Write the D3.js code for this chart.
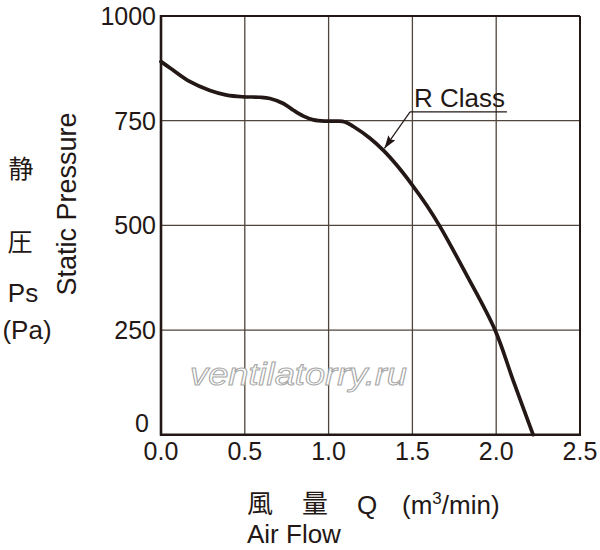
<!DOCTYPE html>
<html><head><meta charset="utf-8">
<script src="https://cdn.jsdelivr.net/npm/d3@7"></script>
<style>
body{margin:0;background:#fff;}
svg{display:block;font-family:"Liberation Sans",Arial,Helvetica,sans-serif;}
</style></head>
<body>
<svg id="c" width="600" height="550"></svg>
<script>
const flow     = [0.00, 0.054, 0.173, 0.292, 0.392, 0.491, 0.59, 0.65, 0.73, 0.79, 0.85, 0.91, 0.98, 1.05, 1.098, 1.148, 1.247, 1.327, 1.406, 1.496, 1.585, 1.665, 1.824, 1.993, 2.10, 2.22];
const pressure = [891,  876,   843,   822,   811,   807,   806,  803,  791,  775,  761,  752,  749,  749,  747,   736,   708,   679,   644,   598,   548,   497,   381,   250,   131,  0];
const xTicks = [0, 0.5, 1.0, 1.5, 2.0, 2.5];
const yTicks = [0, 250, 500, 750, 1000];
const seriesName = "R Class";
const labelAt = [1.486, 771];   // underline start (data coords)
const labelEnd = 2.064;
const arrowTip = [1.327, 679];

const ink = "#231815", grid = "#4f453c";
const svg = d3.select("#c");
const x = d3.scaleLinear().domain([0, 2.5]).range([161, 580]);
const y = d3.scaleLinear().domain([0, 1000]).range([434.7, 16]);

// grid
svg.append("g").selectAll("line").data(xTicks.slice(1, -1)).join("line")
  .attr("x1", d => x(d)).attr("x2", d => x(d)).attr("y1", y(1000)).attr("y2", y(0))
  .attr("stroke", grid).attr("stroke-width", 1.3);
svg.append("g").selectAll("line").data(yTicks.slice(1, -1)).join("line")
  .attr("x1", x(0)).attr("x2", x(2.5)).attr("y1", d => y(d)).attr("y2", d => y(d))
  .attr("stroke", grid).attr("stroke-width", 1.3);

// watermark
svg.append("text").attr("x", 190).attr("y", 385).text("ventilatorry.ru")
  .attr("font-size", 31).attr("font-style", "italic").attr("textLength", 217)
  .attr("lengthAdjust", "spacingAndGlyphs")
  .attr("fill", "#fff").attr("stroke", "#a8a8a8").attr("stroke-width", 1);

// frame
svg.append("line").attr("x1", x(0)).attr("x2", x(2.5)).attr("y1", y(1000)).attr("y2", y(1000)).attr("stroke", ink).attr("stroke-width", 2);
svg.append("line").attr("x1", x(2.5)).attr("x2", x(2.5)).attr("y1", y(1000)).attr("y2", y(0)).attr("stroke", ink).attr("stroke-width", 2);
svg.append("line").attr("x1", x(0)).attr("x2", x(0)).attr("y1", y(1000) - 1).attr("y2", y(0) + 1).attr("stroke", ink).attr("stroke-width", 2.6);
svg.append("line").attr("x1", x(0) - 1).attr("x2", x(2.5) + 1).attr("y1", y(0)).attr("y2", y(0)).attr("stroke", ink).attr("stroke-width", 2.6);

// ticks
svg.append("g").selectAll("text").data(yTicks).join("text")
  .attr("x", d => d === 0 ? 149 : 156).attr("y", d => d === 0 ? y(d) - 3 : y(d)).attr("dy", d => d === 0 ? "0" : "0.36em")
  .attr("text-anchor", "end").attr("font-size", 25).attr("fill", ink)
  .text(d => d);
svg.append("g").selectAll("text").data(xTicks).join("text")
  .attr("x", d => x(d)).attr("y", 460)
  .attr("text-anchor", "middle").attr("font-size", 25).attr("fill", ink)
  .text(d => d.toFixed(1));

// curve
const pts = flow.map((f, i) => [f, pressure[i]]);
svg.append("path").datum(pts)
  .attr("d", d3.line().x(d => x(d[0])).y(d => y(d[1])).curve(d3.curveCatmullRom.alpha(0.5)))
  .attr("fill", "none").attr("stroke", ink).attr("stroke-width", 3.7).attr("stroke-linecap", "round");

// annotation
svg.append("defs").append("marker").attr("id", "ah").attr("viewBox", "0 0 12 8")
  .attr("refX", 12).attr("refY", 4).attr("markerWidth", 13).attr("markerHeight", 9)
  .attr("markerUnits", "userSpaceOnUse").attr("orient", "auto")
  .append("path").attr("d", "M0,0 L12,4 L0,8 L2,4 Z").attr("fill", ink);
svg.append("line").attr("x1", x(labelAt[0])).attr("y1", y(labelAt[1]))
  .attr("x2", x(labelEnd)).attr("y2", y(labelAt[1])).attr("stroke", ink).attr("stroke-width", 1.2);
svg.append("line").attr("x1", x(labelAt[0])).attr("y1", y(labelAt[1]))
  .attr("x2", x(arrowTip[0]) + 1).attr("y2", y(arrowTip[1]) - 2)
  .attr("stroke", ink).attr("stroke-width", 1.2).attr("marker-end", "url(#ah)");
svg.append("text").attr("x", x(labelAt[0]) + 4).attr("y", y(labelAt[1]) - 5)
  .attr("font-size", 26).attr("fill", ink).text(seriesName);

// y labels
svg.append("text").attr("transform", "translate(76,204) rotate(-90)")
  .attr("text-anchor", "middle").attr("font-size", 27).attr("fill", ink).text("Static Pressure");
const cjk = '"Noto Sans CJK JP","Noto Sans CJK SC",sans-serif';
svg.append("text").attr("x", 21).attr("y", 178).attr("text-anchor", "middle").attr("font-size", 25)
  .attr("font-family", cjk).attr("fill", ink).text("静");
svg.append("text").attr("x", 20).attr("y", 251).attr("text-anchor", "middle").attr("font-size", 25)
  .attr("font-family", cjk).attr("fill", ink).text("圧");
svg.append("text").attr("x", 23).attr("y", 302).attr("text-anchor", "middle").attr("font-size", 26)
  .attr("fill", ink).text("Ps");
svg.append("text").attr("x", 27).attr("y", 339).attr("text-anchor", "middle").attr("font-size", 26)
  .attr("fill", ink).text("(Pa)");

// x labels
svg.append("text").attr("x", 247).attr("y", 513).attr("font-size", 26).attr("font-family", cjk).attr("fill", ink).text("風");
svg.append("text").attr("x", 302).attr("y", 513).attr("font-size", 26).attr("font-family", cjk).attr("fill", ink).text("量");
const ql = svg.append("text").attr("x", 357).attr("y", 514).attr("font-size", 26).attr("fill", ink);
ql.append("tspan").text("Q");
ql.append("tspan").attr("x", 402).text("(m");
ql.append("tspan").attr("dy", -10).attr("font-size", 17).text("3");
ql.append("tspan").attr("dy", 10).text("/min)");
svg.append("text").attr("x", 247).attr("y", 543).attr("font-size", 26).attr("fill", ink).text("Air Flow");
</script>
</body></html>
